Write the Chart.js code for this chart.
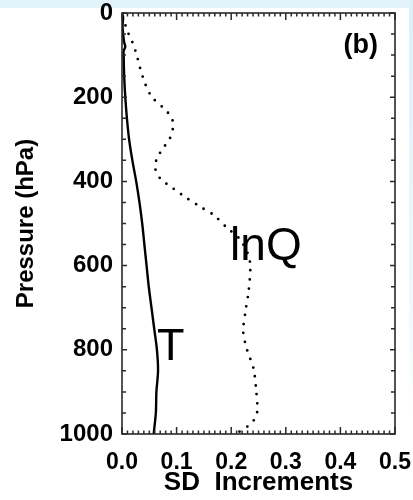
<!DOCTYPE html>
<html>
<head>
<meta charset="utf-8">
<script src="https://cdn.jsdelivr.net/npm/chart.js@4.4.0/dist/chart.umd.min.js"></script>
<style>
  html, body { margin: 0; padding: 0; background: #ffffff; }
  #wrap { position: relative; width: 413px; height: 500px; overflow: hidden; }
  #topband { position: absolute; left: 0; top: 0; width: 413px; height: 8px; background: #e2f3f9; }
  #rightband { position: absolute; right: 0; top: 0; width: 4px; height: 420px;
               background: linear-gradient(to bottom, #dcf0f8, #eef8fb 70%, #ffffff); }
  canvas { position: absolute; left: 0; top: 0; }
</style>
</head>
<body>
<div id="wrap">
  <div id="topband"></div>
  <div id="rightband"></div>
  <canvas id="container" width="413" height="500"></canvas>
</div>
<script>
// T profile (pressure hPa, SD increment)
var pT    = [0, 10, 30, 50, 70, 80, 90, 100, 150, 200, 250, 300, 350, 400, 450, 500, 550, 600, 650, 700, 750, 800, 850, 900, 950, 1000];
var tVals = [0.0, 0.002, 0.001, 0.002, 0.004, 0.006, 0.003, 0.003, 0.004, 0.006, 0.009, 0.013, 0.019, 0.026, 0.032, 0.037, 0.041, 0.045, 0.049, 0.054, 0.059, 0.064, 0.066, 0.063, 0.062, 0.058];

// lnQ profile
var pQ    = [10, 20, 44, 60, 80, 100, 130, 170, 200, 226, 245, 265, 297, 320, 345, 370, 393, 417, 440, 460, 480, 510, 536, 570, 600, 660, 710, 757, 800, 845, 900, 940, 960, 980, 1000];
var qVals = [0.0, 0.004, 0.010, 0.016, 0.022, 0.027, 0.033, 0.043, 0.055, 0.076, 0.089, 0.094, 0.088, 0.076, 0.064, 0.061, 0.070, 0.094, 0.119, 0.143, 0.168, 0.192, 0.215, 0.230, 0.235, 0.232, 0.226, 0.222, 0.229, 0.241, 0.246, 0.248, 0.245, 0.232, 0.208];

// tick labels
var xTicks = [0.0, 0.1, 0.2, 0.3, 0.4, 0.5];
var yTicks = [0, 200, 400, 600, 800, 1000];

function toPoints(p, v)
{
    var out = [];
    for(var i=0;i<p.length;i++)
    {
        out.push({ x: v[i], y: p[i] });
    }
    return out;
}

// box and inward tick marks like the IDL plot
var boxTicks = {
    id: 'boxTicks',
    afterDraw: function(chart)
    {
        var ctx = chart.ctx, a = chart.chartArea;
        var xs = chart.scales.x, ys = chart.scales.y;
        ctx.save();
        ctx.strokeStyle = '#2a2a2a';
        ctx.lineWidth = 1.5;
        ctx.beginPath();
        for(var i=0;i<=50;i++)
        {
            var px = xs.getPixelForValue(i/100);
            var len = (i%10==0) ? 7 : 3.5;
            ctx.moveTo(px, a.bottom); ctx.lineTo(px, a.bottom-len);
            ctx.moveTo(px, a.top); ctx.lineTo(px, a.top+len);
        }
        for(var j=0;j<=20;j++)
        {
            var py = ys.getPixelForValue(j*50);
            var l2 = (j%4==0) ? 5 : 4;
            ctx.moveTo(a.left, py); ctx.lineTo(a.left+l2, py);
            ctx.moveTo(a.right, py); ctx.lineTo(a.right-l2, py);
        }
        ctx.stroke();
        ctx.lineWidth = 1.6;
        ctx.strokeRect(a.left, a.top, a.right-a.left, a.bottom-a.top);

        // curve labels
        ctx.fillStyle = '#000';
        ctx.textBaseline = 'alphabetic';
        ctx.font = 'bold 27px "Liberation Sans", Arial, sans-serif';
        ctx.textAlign = 'right';
        ctx.fillText('(b)', xs.getPixelForValue(0.469), ys.getPixelForValue(95));
        ctx.textAlign = 'left';
        ctx.font = '46px "Liberation Sans", Arial, sans-serif';
        ctx.fillText('lnQ', xs.getPixelForValue(0.198), ys.getPixelForValue(587));
        ctx.font = '45px "Liberation Sans", Arial, sans-serif';
        ctx.fillText('T', xs.getPixelForValue(0.064), ys.getPixelForValue(824));
        ctx.restore();
    }
};

var container = document.getElementById("container").getContext("2d");
var mychart = new Chart(container, {
    type: 'scatter',
    data: {
        datasets: [
            { label: "T", data: toPoints(pT, tVals), showLine: true,
              borderColor: '#000', borderWidth: 2.4, pointRadius: 0, tension: 0.3, fill: false },
            { label: "lnQ", data: toPoints(pQ, qVals), showLine: true,
              borderColor: '#000', borderWidth: 2.8, borderDash: [0, 9], borderCapStyle: 'round',
              pointRadius: 0, tension: 0.3, fill: false },
        ],
    },
    options: {
        responsive: false,
        animation: false,
        devicePixelRatio: 1,
        layout: { padding: { left: 0, top: 13, right: 18, bottom: 0 } },
        plugins: { legend: { display: false }, tooltip: { enabled: false } },
        scales: {
            x: {
                type: 'linear', min: 0, max: 0.5,
                grid: { display: false, drawTicks: false },
                border: { display: false },
                afterBuildTicks: function(s) { s.ticks = xTicks.map(function(v){ return { value: v }; }); },
                afterFit: function(s) { s.height = 66; s.paddingLeft = 0; s.paddingRight = 0; },
                ticks: {
                    color: '#000', padding: 15, maxRotation: 0, autoSkip: false,
                    font: { family: '"Liberation Sans", Arial, sans-serif', size: 23, weight: 'bold' },
                    callback: function(v) { return Number(v).toFixed(1); },
                },
                title: {
                    display: true, text: 'SD  Increments', color: '#000',
                    padding: { top: 0, bottom: 2 },
                    font: { family: '"Liberation Sans", Arial, sans-serif', size: 26, weight: 'bold' },
                },
            },
            y: {
                type: 'linear', min: 0, max: 1000, reverse: true,
                grid: { display: false, drawTicks: false },
                border: { display: false },
                afterBuildTicks: function(s) { s.ticks = yTicks.map(function(v){ return { value: v }; }); },
                afterFit: function(s) { s.width = 122; s.paddingTop = 0; s.paddingBottom = 0; },
                ticks: {
                    color: '#000', padding: 9, autoSkip: false,
                    font: { family: '"Liberation Sans", Arial, sans-serif', size: 24, weight: 'bold' },
                    callback: function(v) { return String(v); },
                },
                title: {
                    display: true, text: 'Pressure (hPa)', color: '#000',
                    padding: { top: 12, bottom: 0 },
                    font: { family: '"Liberation Sans", Arial, sans-serif', size: 24, weight: 'bold' },
                },
            },
        },
    },
    plugins: [boxTicks],
});
</script>
</body>
</html>
